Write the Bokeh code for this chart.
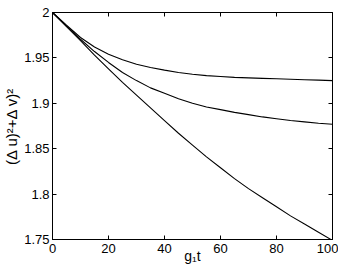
from bokeh.plotting import figure
from bokeh.models import LinearAxis, FixedTicker, Range1d
from bokeh.embed import file_html
from bokeh.resources import INLINE

t = [0, 5, 10, 15, 20, 25, 30, 35, 40, 45, 50, 55, 60, 65, 70, 75, 80, 85, 90, 95, 100]
top = [2.0, 1.986, 1.9725, 1.962, 1.954, 1.948, 1.943, 1.9395, 1.9365, 1.934, 1.932,
       1.9305, 1.9295, 1.9285, 1.928, 1.9275, 1.927, 1.9265, 1.926, 1.9255, 1.925]
middle = [2.0, 1.985, 1.9705, 1.957, 1.945, 1.934, 1.925, 1.917, 1.911, 1.905, 1.900,
          1.896, 1.893, 1.890, 1.8875, 1.885, 1.883, 1.881, 1.8795, 1.878, 1.877]
bottom = [2.0, 1.9845, 1.969, 1.953, 1.938, 1.923, 1.909, 1.895, 1.881, 1.867, 1.854,
          1.841, 1.829, 1.817, 1.806, 1.796, 1.786, 1.776, 1.767, 1.758, 1.749]
xticks = [0, 20, 40, 60, 80, 100]
yticks = [1.75, 1.8, 1.85, 1.9, 1.95, 2.0]

FONT = "Liberation Sans"

p = figure(width=338, height=269, output_backend="svg", toolbar_location=None,
           x_range=Range1d(0, 100), y_range=Range1d(1.75, 2.0),
           min_border_left=41, min_border_right=6, min_border_top=12, min_border_bottom=30,
           x_axis_type=None, y_axis_type=None)
p.grid.visible = False
p.outline_line_color = "black"
p.outline_line_width = 1
p.background_fill_color = "white"
p.border_fill_color = "white"

for series in (top, middle, bottom):
    p.line(t, series, line_color="black", line_width=1.1)

def make_axis(ticks, labels=True, label=""):
    ax = LinearAxis(ticker=FixedTicker(ticks=ticks))
    ax.major_tick_in = 4
    ax.major_tick_out = 0
    ax.minor_tick_in = 0
    ax.minor_tick_out = 0
    ax.axis_line_color = "black"
    ax.major_tick_line_color = "black"
    ax.major_label_text_font = FONT
    ax.major_label_text_font_size = "13px"
    ax.major_label_text_color = "black"
    if not labels:
        ax.major_label_overrides = {tk: "" for tk in ticks}
        ax.major_label_standoff = 0
    ax.axis_label = label
    ax.axis_label_text_font = FONT
    ax.axis_label_text_font_style = "normal"
    ax.axis_label_text_font_size = "14px"
    ax.axis_label_text_color = "black"
    return ax

xb = make_axis(xticks, True, "g\u2081t")
xb.major_label_standoff = 4
xb.axis_label_standoff = -8
p.add_layout(xb, "below")

yl = make_axis(yticks, True, "(\u0394 u)\u00b2+\u0394 v)\u00b2")
yl.axis_label_text_font_size = "15px"
yl.major_label_standoff = 3
yl.axis_label_standoff = 1
p.add_layout(yl, "left")

xt = make_axis(xticks, False)
p.add_layout(xt, "above")
yr = make_axis(yticks, False)
p.add_layout(yr, "right")

open("out.html", "w").write(file_html(p, INLINE))
